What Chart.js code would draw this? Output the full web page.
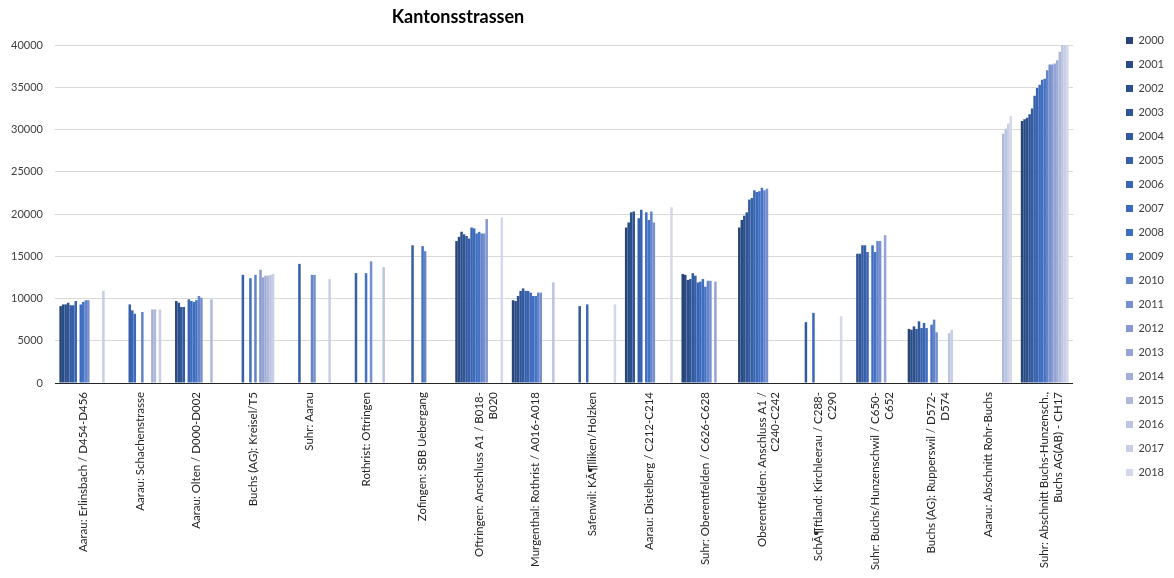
<!DOCTYPE html>
<html>
<head>
<meta charset="utf-8">
<script src="https://cdn.jsdelivr.net/npm/chart.js@4/dist/chart.umd.min.js"></script>
<style>
  html, body { margin: 0; padding: 0; background: #ffffff; }
  #wrap { position: relative; width: 1174px; height: 578px; }
</style>
</head>
<body>
<div id="wrap"><canvas id="c" width="1174" height="578"></canvas></div>
<script>
const chartTitle = 'Kantonsstrassen';

const categories = [
  'Aarau: Erlinsbach / D454-D456',
  'Aarau: Schachenstrasse',
  'Aarau: Olten / D000-D002',
  'Buchs (AG): Kreisel/T5',
  'Suhr: Aarau',
  'Rothrist: Oftringen',
  'Zofingen: SBB Uebergang',
  ['Oftringen: Anschluss A1 / B018-', 'B020'],
  'Murgenthal: Rothrist / A016-A018',
  'Safenwil: KÃ¶lliken/Holzken',
  'Aarau: Distelberg / C212-C214',
  'Suhr: Oberentfelden / C626-C628',
  ['Oberentfelden: Anschluss A1 /', 'C240-C242'],
  ['SchÃ¶ftland: Kirchleerau / C288-', 'C290'],
  ['Suhr: Buchs/Hunzenschwil / C650-', 'C652'],
  ['Buchs (AG): Rupperswil / D572-', 'D574'],
  'Aarau: Abschnitt Rohr-Buchs',
  ['Suhr: Abschnitt Buchs-Hunzensch.,', 'Buchs AG(AB) - CH17']
];

const years = ['2000','2001','2002','2003','2004','2005','2006','2007','2008','2009',
               '2010','2011','2012','2013','2014','2015','2016','2017','2018'];

const _ = null;
const v2000 = [9100, _, _, _, _, _, _, 16800, 9800, _, 18400, 12900, 18400, _, _, 6400, _, 31000];
const v2001 = [9300, _, 9700, _, _, _, _, 17300, 9700, _, 19000, 12800, 19300, _, _, 6300, _, 31200];
const v2002 = [9300, _, 9500, _, _, _, _, 17900, 10300, _, 20200, 12200, 19800, _, 15300, 6700, _, 31400];
const v2003 = [9500, _, 9000, _, _, _, _, 17600, 10900, _, 20300, 12300, 20200, _, 15300, 6400, _, 31800];
const v2004 = [9200, _, 9000, _, _, _, _, 17400, 11200, 9100, _, 13000, 21700, 7200, 16300, 7300, _, 32500];
const v2005 = [9200, 9300, _, 12800, 14100, 13000, 16300, 17100, 10900, _, 19500, 12700, 21900, _, 16300, 6500, _, 34000];
const v2006 = [9700, 8600, 9900, _, _, _, _, 18400, 10900, _, 20500, 11900, 22800, _, 15500, 7100, _, 34900];
const v2007 = [_, 8200, 9700, _, _, _, _, 18300, 10700, 9300, _, 12000, 22600, 8300, _, 6500, _, 35300];
const v2008 = [9300, _, 9600, 12400, _, _, _, 17700, 10300, _, 20200, 12300, 22700, _, 16300, _, _, 35900];
const v2009 = [9600, _, 9800, _, _, 13000, 16200, 17900, 10300, _, 19300, 11400, 23100, _, 15500, 6900, _, 36000];
const v2010 = [9800, 8400, 10300, 12800, 12800, _, 15600, 17700, 10700, _, 20300, 12100, 22800, _, 16800, 7500, _, 37000];
const v2011 = [9800, _, 10100, _, 12800, 14400, _, 17700, 10700, _, 19000, 12100, 23000, _, 16800, 6000, _, 37700];
const v2012 = [_, _, _, 13400, _, _, _, 19400, _, _, _, _, _, _, _, _, _, 37700];
const v2013 = [_, _, _, 12500, _, _, _, _, _, _, _, 12000, _, _, 17500, _, _, 37800];
const v2014 = [_, 8700, _, 12700, _, _, _, _, _, _, _, _, _, _, _, _, _, 38200];
const v2015 = [_, 8700, 9900, 12700, _, _, _, _, _, _, _, _, _, _, _, _, 29500, 39200];
const v2016 = [_, _, _, 12800, _, 13700, _, _, 11900, _, _, _, _, _, _, 5900, 30100, 40000];
const v2017 = [10900, 8700, _, 12900, 12300, _, _, _, _, _, _, _, _, _, _, 6300, 30700, 40000];
const v2018 = [_, _, _, _, _, _, _, 19600, _, 9300, 20800, _, _, 7900, _, _, 31600, 40000];

const seriesValues = [v2000, v2001, v2002, v2003, v2004, v2005, v2006, v2007, v2008, v2009,
                      v2010, v2011, v2012, v2013, v2014, v2015, v2016, v2017, v2018];

const yTicks = [0, 5000, 10000, 15000, 20000, 25000, 30000, 35000, 40000];

const seriesColors = ['#264478','#294a82','#2c4f8c','#2f5596','#325aa0','#355fa9','#3864b2','#3c69bb',
                      '#3f6ec1','#4472c4','#6484c9','#7690cd','#8699d0','#95a4d4','#a2aed8','#aeb9dc',
                      '#bbc4e1','#c7cee6','#d3d8eb'];

const FONT = 'Lato, "Open Sans", "DejaVu Sans", sans-serif';

const titlePlugin = {
  id: 'freeTitle',
  afterDraw(chart) {
    const ctx = chart.ctx;
    ctx.save();
    ctx.font = 'bold 18px ' + FONT;
    ctx.fillStyle = '#000000';
    ctx.textAlign = 'center';
    ctx.textBaseline = 'middle';
    ctx.fillText(chartTitle, 458, 17);
    ctx.restore();
  }
};

new Chart(document.getElementById('c'), {
  type: 'bar',
  data: {
    labels: categories,
    datasets: years.map((y, i) => ({
      label: y,
      data: seriesValues[i],
      backgroundColor: seriesColors[i],
      borderWidth: 0,
      barPercentage: 1.0,
      categoryPercentage: 0.845
    }))
  },
  options: {
    responsive: false,
    animation: false,
    devicePixelRatio: 1,
    layout: { padding: { top: 22, bottom: 0, left: 0, right: 0 } },
    plugins: {
      title: { display: false },
      tooltip: { enabled: false },
      legend: {
        display: true,
        position: 'right',
        align: 'start',
        labels: {
          boxWidth: 7,
          boxHeight: 7,
          padding: 13,
          color: '#404040',
          font: { family: FONT, size: 11 }
        }
      }
    },
    scales: {
      x: {
        position: 'bottom',
        grid: { display: false, drawTicks: false },
        border: { display: true, color: '#262626', width: 1 },
        ticks: {
          autoSkip: false,
          minRotation: 90,
          maxRotation: 90,
          padding: 9,
          color: '#262626',
          font: { family: FONT, size: 11.5 }
        },
        afterFit(s) { s.height = 195; }
      },
      xTop: {
        type: 'linear',
        axis: 'x',
        position: 'top',
        display: true,
        grid: { display: false, drawTicks: false },
        border: { display: false },
        ticks: { display: false },
        afterFit(s) { s.height = 23; }
      },
      y: {
        min: 0,
        max: 40000,
        afterBuildTicks(s) { s.ticks = yTicks.map(v => ({ value: v })); },
        grid: { color: '#d9d9d9', lineWidth: 1, drawTicks: false },
        border: { display: false },
        ticks: {
          padding: 12,
          color: '#404040',
          font: { family: FONT, size: 11 },
          callback: (v) => String(v)
        },
        afterFit(s) { s.width = 55; }
      },
      yRight: {
        type: 'linear',
        position: 'right',
        display: true,
        grid: { display: false, drawTicks: false },
        border: { display: false },
        ticks: { display: false },
        afterFit(s) { s.width = 40; }
      }
    }
  },
  plugins: [titlePlugin]
});
</script>
</body>
</html>
